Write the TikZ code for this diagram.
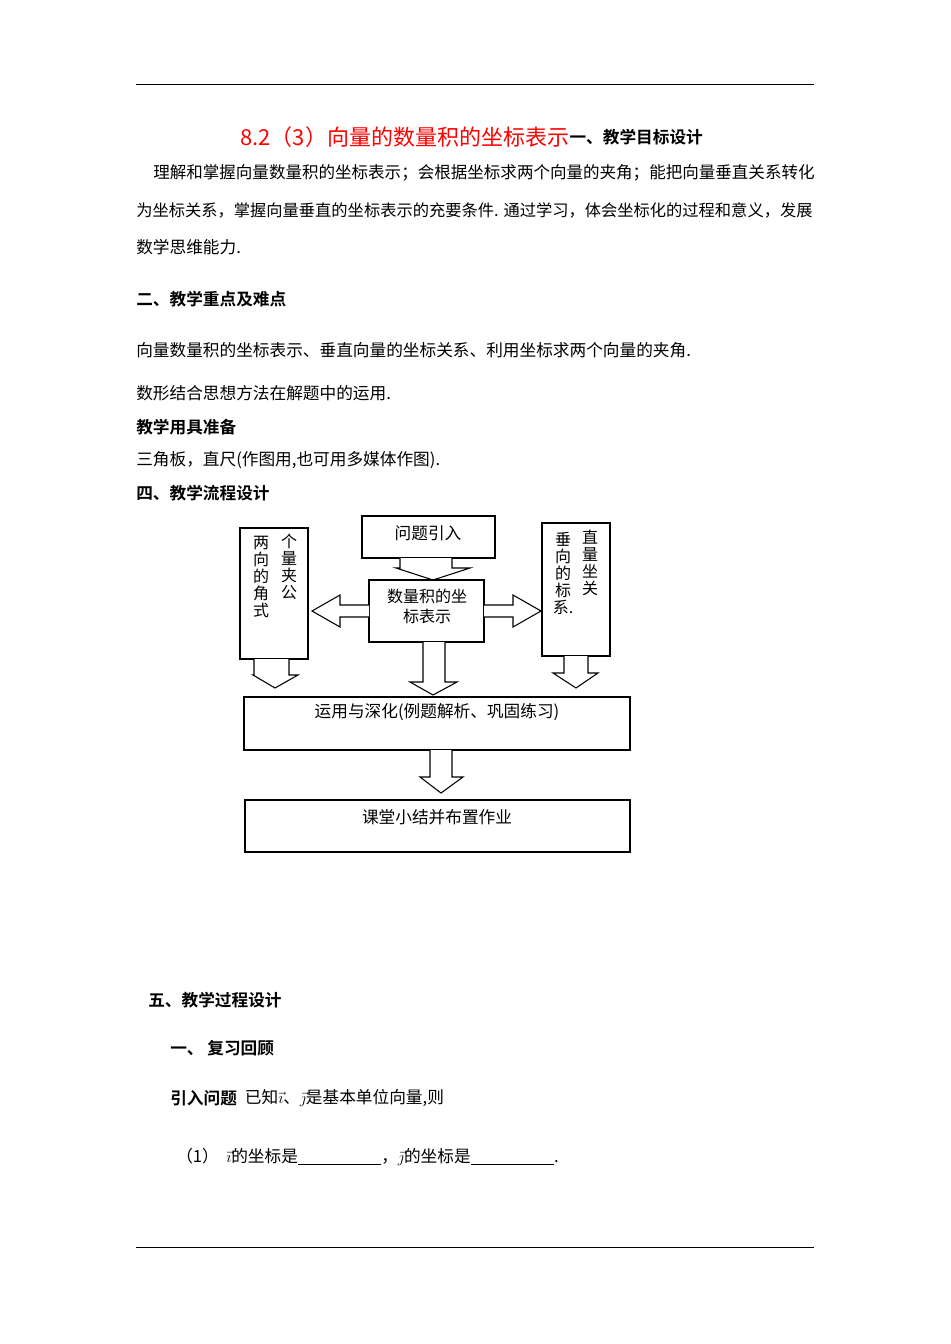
\documentclass[tikz,border=0pt]{standalone}
\usepackage{fontspec}
\setmainfont{Noto Sans CJK SC}[BoldFont={Noto Sans CJK SC Bold}]
\begin{document}
\begin{tikzpicture}[x=0.75pt,y=-0.75pt,
  txt/.style={anchor=west,inner sep=0pt,font=\fontsize{12.5pt}{14pt}\selectfont},
  hd/.style={txt,font=\fontsize{12.5pt}{14pt}\selectfont\bfseries},
  bx/.style={draw,line width=0.8pt},
  arr/.style={draw,line width=0.8pt,fill=white},
  vt/.style={inner sep=0pt,align=center,font=\fontsize{12pt}{12.75pt}\selectfont,anchor=north}]
\useasboundingbox (0,0) rectangle (950,1344);
\draw[line width=0.6pt] (136,84) -- (814,84);
\draw[line width=0.6pt] (136,1247) -- (814,1247);
\node[anchor=west,inner sep=0pt,text=red,font=\fontsize{16.5pt}{18pt}\selectfont] (title) at (240,137) {8.2（3）向量的数量积的坐标表示};
\node[hd,anchor=west] (t1) at (title.east) {一、教学目标设计};
\node[txt,font=\fontsize{12.4pt}{14pt}\selectfont] (p1) at (153,173) {理解和掌握向量数量积的坐标表示；会根据坐标求两个向量的夹角；能把向量垂直关系转化};
\node[txt,font=\fontsize{12.2pt}{14pt}\selectfont] (p2) at (136,210) {为坐标关系，掌握向量垂直的坐标表示的充要条件. 通过学习，体会坐标化的过程和意义，发展};
\node[txt] (p3) at (136,247) {数学思维能力.};
\node[hd] (h2) at (136,299) {二、教学重点及难点};
\node[txt] (p4) at (136,350) {向量数量积的坐标表示、垂直向量的坐标关系、利用坐标求两个向量的夹角.};
\node[txt] (p5) at (136,393) {数形结合思想方法在解题中的运用.};
\node[hd] (h3) at (136,427) {教学用具准备};
\node[txt] (p6) at (136,460) {三角板，直尺(作图用,也可用多媒体作图).};
\node[hd] (h4) at (136,493) {四、教学流程设计};
% flowchart
\draw[bx] (240,528) rectangle (308,659);
\node[vt] (lc1) at (289,534) {个\\量\\夹\\公};
\node[vt] (lc2) at (261,536) {两\\向\\的\\角\\式};
\draw[bx] (542,523) rectangle (610,656);
\node[vt] (rc1) at (590,530) {直\\量\\坐\\关};
\node[vt] (rc2) at (563,532) {垂\\向\\的\\标\\系.};
\draw[bx] (362,516) rectangle (495,558);
\node[txt,anchor=center] (q) at (428,533) {问题引入};
\draw[arr] (400,558) -- (400,568) -- (396,568) -- (433,580) -- (470,568) -- (452,568) -- (452,558);
\draw[bx] (369,580) rectangle (484,642);
\node[vt,anchor=center,font=\fontsize{12pt}{15pt}\selectfont] (m) at (427,606) {数量积的坐\\标表示};
\draw[arr] (369,605) -- (340,605) -- (340,595) -- (312,611) -- (340,627) -- (340,617) -- (369,617);
\draw[arr] (484,605) -- (513,605) -- (513,595) -- (541,611) -- (513,627) -- (513,617) -- (484,617);
\draw[arr] (254,659) -- (254,675) -- (253,675) -- (275,688) -- (298,675) -- (289,675) -- (289,659);
\draw[arr] (423,642) -- (423,682) -- (410,682) -- (433,695) -- (457,682) -- (445,682) -- (445,642);
\draw[arr] (564,656) -- (564,673) -- (553,673) -- (576,688) -- (598,673) -- (588,673) -- (588,656);
\draw[bx] (244,697) rectangle (630,750);
\node[txt,anchor=center] (u) at (437,712) {运用与深化(例题解析、巩固练习)};
\draw[arr] (430,750) -- (430,777) -- (420,777) -- (441,793) -- (463,777) -- (452,777) -- (452,750);
\draw[bx] (245,800) rectangle (630,852);
\node[txt,anchor=center] (k) at (437,817) {课堂小结并布置作业};
\node[hd] (h5) at (148,1000) {五、教学过程设计};
\node[hd] (h6) at (170,1048) {一、\ 复习回顾};
\node[hd] (h7) at (170,1098) {引入问题};
\node[txt] (p7) at (h7.east) {\ \ 已知$\vec{\imath}$、$\vec{\jmath}$是基本单位向量,则};
\node[txt] (p8) at (176,1157) {（1）\ \ $\vec{\imath}$的坐标是\underline{\hspace{5em}}，$\vec{\jmath}$的坐标是\underline{\hspace{5em}}.};
\end{tikzpicture}
\end{document}
